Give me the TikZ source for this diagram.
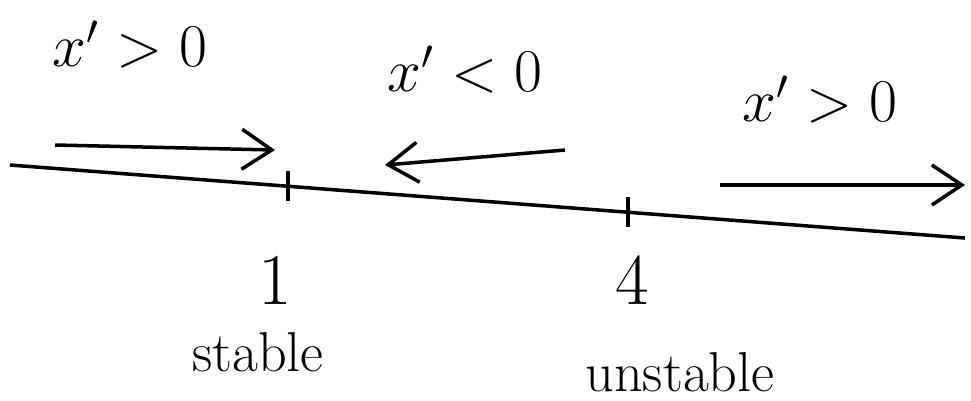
\documentclass[tikz,border=0pt]{standalone}
\usepackage{amsmath}
\usepackage{tikz}
\usetikzlibrary{arrows.meta,calc}

\begin{document}
\begin{tikzpicture}[thick,
  flow/.style={-{Straight Barb[length=3mm,width=4mm]}, line width=1pt},
  lab/.style={font=\LARGE},
  num/.style={font=\huge},
  word/.style={font=\fontsize{16}{18}\selectfont}]

% Frame
\useasboundingbox (0,0) rectangle (9.71,4.00);

% Phase line (slightly sloped, as drawn)
\coordinate (L1) at (0.10,2.35);
\coordinate (L2) at (9.65,1.62);
\draw[line width=1pt] (L1) -- (L2);

% Equilibria
\coordinate (eqa) at ($(L1)!0.2911!(L2)$);
\coordinate (eqb) at ($(L1)!0.6471!(L2)$);
\draw[line width=1pt] ($(eqa)+(0,0.15)$) -- ($(eqa)+(0,-0.15)$);
\draw[line width=1pt] ($(eqb)+(0,0.15)$) -- ($(eqb)+(0,-0.15)$);

\node[num] (one) at (2.75,1.20) {1};
\node[num] (four) at (6.32,1.20) {4};
\node[word] (stab) at (2.58,0.48) {stable};
\node[word] (unstab) at (6.80,0.28) {unstable};

% Sign of x' on each interval
\node[lab] (sa) at (1.30,3.55) {$x'>0$};
\node[lab] (sb) at (4.65,3.30) {$x'<0$};
\node[lab] (sc) at (8.20,3.00) {$x'>0$};

% Flow arrows
\coordinate (a1) at (0.55,2.55);
\coordinate (a2) at (2.75,2.50);
\coordinate (b1) at (5.65,2.50);
\coordinate (b2) at (3.85,2.35);
\coordinate (c1) at (7.20,2.15);
\coordinate (c2) at (9.65,2.15);
\draw[flow] (a1) -- (a2);
\draw[flow] (b1) -- (b2);
\draw[flow] (c1) -- (c2);

\end{tikzpicture}
\end{document}
